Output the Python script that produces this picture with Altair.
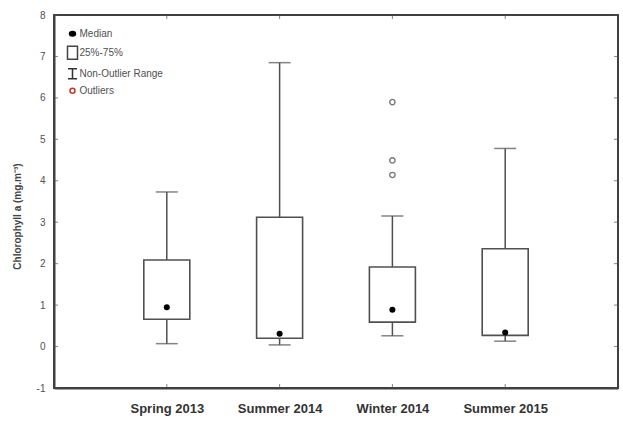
import altair as alt
import pandas as pd

# ---- data ----
categories = ["Spring 2013", "Summer 2014", "Winter 2014", "Summer 2015"]
whisker_low = [0.07, 0.04, 0.26, 0.13]
q1 = [0.66, 0.20, 0.59, 0.27]
median = [0.95, 0.31, 0.89, 0.34]
q3 = [2.09, 3.12, 1.92, 2.36]
whisker_high = [3.73, 6.85, 3.15, 4.78]
outlier_category = ["Winter 2014", "Winter 2014", "Winter 2014"]
outlier_value = [5.90, 4.49, 4.14]
y_ticks = [-1, 0, 1, 2, 3, 4, 5, 6, 7, 8]
legend_items = ["Median", "25%-75%", "Non-Outlier Range", "Outliers"]

W, H = 564, 373
GRAY = "#505050"
FRAME = "#404040"
FONT = "Liberation Sans"

box_df = pd.DataFrame({
    "cat": categories, "lo": whisker_low, "q1": q1,
    "med": median, "q3": q3, "hi": whisker_high,
})
out_df = pd.DataFrame({"cat": outlier_category, "val": outlier_value})
ytick_df = pd.DataFrame({"v": y_ticks})
cat_df = pd.DataFrame({"cat": categories})
legend_df = pd.DataFrame({"item": legend_items})

x_axis = alt.Axis(title=None, ticks=False, domain=True, domainColor=FRAME, domainWidth=2,
                  grid=False, labelAngle=0,
                  labelFont=FONT, labelFontSize=13, labelFontWeight="bold",
                  labelColor="#333333", labelPadding=14)
X = alt.X("cat:N", scale=alt.Scale(type="point", padding=1, domain=categories), axis=x_axis)

y_scale = alt.Scale(domain=[-1, 8], nice=False, zero=False)
y_axis = alt.Axis(title="Chlorophyll a (mg.m⁻³)", values=y_ticks, ticks=False, domain=True,
                  domainColor=FRAME, domainWidth=2,
                  grid=False, labelFont=FONT, labelFontSize=10, labelColor=GRAY,
                  labelExpr="replace(datum.label, '\u2212', '-')",
                  labelPadding=9, titleFont=FONT, titleFontSize=10, titleFontWeight="bold",
                  titleColor="#444444", titleX=-32, titleY=201)


def Y(field):
    return alt.Y(f"{field}:Q", scale=y_scale, axis=y_axis)


base = alt.Chart(box_df)

lower_whisker = base.mark_rule(color=GRAY, strokeWidth=1.5).encode(x=X, y=Y("lo"), y2="q1:Q")
upper_whisker = base.mark_rule(color=GRAY, strokeWidth=1.5).encode(x=X, y=Y("q3"), y2="hi:Q")
boxes = base.mark_bar(size=46, fill="white", stroke=GRAY, strokeWidth=1.6).encode(
    x=X, y=Y("q3"), y2="q1:Q")
cap_lo = base.mark_tick(size=22, thickness=1.5, color=GRAY, orient="horizontal").encode(x=X, y=Y("lo"))
cap_hi = base.mark_tick(size=22, thickness=1.5, color=GRAY, orient="horizontal").encode(x=X, y=Y("hi"))
medians = base.mark_point(filled=True, color="black", size=36, shape="circle", opacity=1).encode(
    x=X, y=Y("med"))
outliers = alt.Chart(out_df).mark_point(shape="circle", size=28, color="#777777",
                                        strokeWidth=1.4, opacity=1).encode(x=X, y=Y("val"))

# inward axis ticks on all four sides
ytick_left = alt.Chart(ytick_df).mark_tick(orient="horizontal", size=4, thickness=1, color=GRAY).encode(
    y=Y("v"), x=alt.value(2))
ytick_right = alt.Chart(ytick_df).mark_tick(orient="horizontal", size=4, thickness=1, color=GRAY).encode(
    y=Y("v"), x=alt.value(W - 2))
xtick_bottom = alt.Chart(cat_df).mark_tick(orient="vertical", size=4, thickness=1, color=GRAY).encode(
    x=X, y=alt.value(H - 2))
xtick_top = alt.Chart(cat_df).mark_tick(orient="vertical", size=4, thickness=1, color=GRAY).encode(
    x=X, y=alt.value(2))

# legend (symbols only; no drawn data)
shape_paths = [
    "M-0.6,0A0.6,0.45 0 1,0 0.6,0A0.6,0.45 0 1,0 -0.6,0Z",
    "M-1,-1.3H1V1.3H-1Z",
    "M-0.9,-1H0.9M0,-1V1M-0.9,1H0.9",
    "M-0.5,0A0.5,0.5 0 1,0 0.5,0A0.5,0.5 0 1,0 -0.5,0Z",
]
legend = alt.Legend(orient="none", legendX=12.5, legendY=12.7, title=None, symbolSize=100,
                    symbolStrokeWidth=1.5, symbolOpacity=1, labelFont=FONT, labelFontSize=10,
                    labelColor=GRAY, labelOffset=1, rowPadding=3, padding=0)
legend_layer = alt.Chart(legend_df).transform_filter("false").mark_point(opacity=1).encode(
    x=alt.value(0), y=alt.value(0),
    shape=alt.Shape("item:N", scale=alt.Scale(domain=legend_items, range=shape_paths), legend=legend),
    fill=alt.Fill("item:N", scale=alt.Scale(domain=legend_items,
                                            range=["black", "white", "transparent", "transparent"]),
                  legend=legend),
    stroke=alt.Stroke("item:N", scale=alt.Scale(domain=legend_items,
                                                range=["black", "#444444", "#333333", "#c0392b"]),
                      legend=legend),
)

chart = alt.layer(
    lower_whisker, upper_whisker, boxes, cap_lo, cap_hi, medians, outliers,
    ytick_left, ytick_right, xtick_bottom, xtick_top, legend_layer,
).properties(
    width=W, height=H,
    autosize=alt.AutoSizeParams(type="none"),
    padding={"left": 54, "top": 15, "right": 5, "bottom": 33},
    background="white",
).configure(font=FONT).configure_view(stroke=FRAME, strokeWidth=2)

chart.save("out.html", embed_options={"renderer": "svg", "actions": False})
